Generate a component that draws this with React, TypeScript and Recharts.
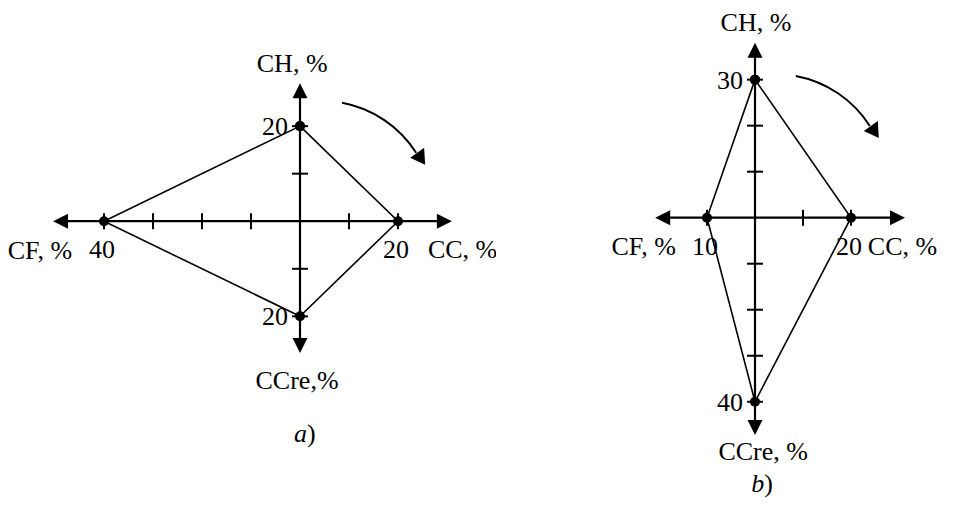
import React from 'react';
import { ScatterChart, Scatter, XAxis, YAxis, ReferenceLine } from 'recharts';

// semi-axes in drawing order: CH up, CC right, CCre down, CF left
const axisKeys = ['CH', 'CC', 'CCre', 'CF'];
const valuesA = [20, 20, 20, 40];
const valuesB = [30, 20, 40, 10];
const tickSteps = [10, 20, 30, 40];
const axisNamesA = ['CH, %', 'CC, %', 'CCre,%', 'CF, %'];
const axisNamesB = ['CH, %', 'CC, %', 'CCre, %', 'CF, %'];

const FONT = "'Liberation Serif', 'Times New Roman', serif";
const FONT_SIZE = 26;

const dirs: Record<string, [number, number]> = {
  CH: [0, 1],
  CC: [1, 0],
  CCre: [0, -1],
  CF: [-1, 0],
};

type Layout = {
  left: number;
  top: number;
  width: number;
  height: number;
  xDomain: [number, number];
  yDomain: [number, number];
  tips: number[]; // arrow tip distance for CH, CC, CCre, CF
  names: { x: number; y: number; anchor: string }[];
  caption: { x: number; y: number; letter: string };
  turn: { x: number; y: number };
};

const layoutA: Layout = {
  left: 6,
  top: 31,
  width: 490,
  height: 428,
  xDomain: [-60, 40],
  yDomain: [-50, 40],
  tips: [29, 31, 27.7, 50.4],
  names: [
    { x: -1.6, y: 31.4, anchor: 'middle' },
    { x: 26.1, y: -7.7, anchor: 'start' },
    { x: -0.6, y: -35.3, anchor: 'middle' },
    { x: -46.5, y: -7.9, anchor: 'end' },
  ],
  caption: { x: 1, y: -46.4, letter: 'a' },
  turn: { x: 8.6, y: 24.9 },
};

const layoutB: Layout = {
  left: 611,
  top: 6,
  width: 336,
  height: 497,
  xDomain: [-30, 40],
  yDomain: [-62, 46],
  tips: [38, 31.25, 47.2, 20.8],
  names: [
    { x: 0.2, y: 40.6, anchor: 'middle' },
    { x: 23.5, y: -8.1, anchor: 'start' },
    { x: 1.7, y: -52.7, anchor: 'middle' },
    { x: -16.5, y: -8.1, anchor: 'end' },
  ],
  caption: { x: 1.5, y: -59.6, letter: 'b' },
  turn: { x: 8.5, y: 30.8 },
};

const PointShape = (props: any) => {
  const { cx, cy, payload } = props;
  const side = payload.axis === 'CH' || payload.axis === 'CCre';
  return (
    <g>
      <circle cx={cx} cy={cy} r={5} fill="#000" />
      {payload.label && (
        <text
          x={side ? cx - 12 : cx - 2}
          y={side ? cy + 9 : cy + 37}
          textAnchor={side ? 'end' : 'middle'}
          fontFamily={FONT}
          fontSize={FONT_SIZE}
          fill="#000"
        >
          {payload.label}
        </text>
      )}
    </g>
  );
};

const TickShape = (props: any) => {
  const { cx, cy, payload } = props;
  if (payload.onX) {
    return <line x1={cx} x2={cx} y1={cy - 8} y2={cy + 8} stroke="#000" strokeWidth={2} />;
  }
  return <line x1={cx - 8} x2={cx + 8} y1={cy} y2={cy} stroke="#000" strokeWidth={2} />;
};

const ArrowTip = (props: any) => {
  const { cx, cy, payload } = props;
  const [dx, dy] = dirs[payload.axis];
  // screen direction (y flipped)
  const sx = dx;
  const sy = -dy;
  const len = 15;
  const half = 7.5;
  const bx = cx - sx * len;
  const by = cy - sy * len;
  const pts = `${cx},${cy} ${bx - sy * half},${by + sx * half} ${bx + sy * half},${by - sx * half}`;
  return <polygon points={pts} fill="#000" />;
};

const NameShape = (props: any) => {
  const { cx, cy, payload } = props;
  return (
    <text x={cx} y={cy} textAnchor={payload.anchor} fontFamily={FONT} fontSize={FONT_SIZE} fill="#000">
      {payload.text}
    </text>
  );
};

const CaptionShape = (props: any) => {
  const { cx, cy, payload } = props;
  return (
    <text x={cx} y={cy} textAnchor="middle" fontFamily={FONT} fontSize={FONT_SIZE} fill="#000">
      <tspan fontStyle="italic">{payload.letter}</tspan>)
    </text>
  );
};

const TurnShape = (props: any) => {
  const { cx, cy } = props;
  return (
    <g>
      <path
        d={`M${cx},${cy} A112,112 0 0 1 ${cx + 74},${cy + 50}`}
        fill="none"
        stroke="#000"
        strokeWidth={2}
      />
      <polygon
        points={`${cx + 83},${cy + 62} ${cx + 68},${cy + 55} ${cx + 82},${cy + 45}`}
        fill="#000"
      />
    </g>
  );
};

function Diagram({ values, names, layout }: { values: number[]; names: string[]; layout: Layout }) {
  const corners = axisKeys.map((axis, i) => ({
    x: dirs[axis][0] * values[i],
    y: dirs[axis][1] * values[i],
    axis,
    label: String(values[i]),
  }));
  const outline = [...corners, { ...corners[0], label: '' }];

  const ticks = axisKeys.flatMap((axis, i) =>
    tickSteps
      .filter((s) => s <= values[i])
      .map((s) => ({ x: dirs[axis][0] * s, y: dirs[axis][1] * s, onX: dirs[axis][0] !== 0 }))
  );

  const tips = axisKeys.map((axis, i) => ({
    x: dirs[axis][0] * layout.tips[i],
    y: dirs[axis][1] * layout.tips[i],
    axis,
  }));

  const nameData = names.map((text, i) => ({ ...layout.names[i], text }));

  return (
    <div style={{ position: 'absolute', left: layout.left, top: layout.top }}>
      <ScatterChart
        width={layout.width}
        height={layout.height}
        margin={{ top: 0, right: 0, bottom: 0, left: 0 }}
      >
        <XAxis type="number" dataKey="x" domain={layout.xDomain} allowDataOverflow hide />
        <YAxis type="number" dataKey="y" domain={layout.yDomain} allowDataOverflow hide />
        <ReferenceLine
          segment={[
            { x: -layout.tips[3] + 1, y: 0 },
            { x: layout.tips[1] - 1, y: 0 },
          ]}
          stroke="#000"
          strokeWidth={2.2}
        />
        <ReferenceLine
          segment={[
            { x: 0, y: -layout.tips[2] + 1 },
            { x: 0, y: layout.tips[0] - 1 },
          ]}
          stroke="#000"
          strokeWidth={2.2}
        />
        <Scatter data={ticks} shape={TickShape} isAnimationActive={false} />
        <Scatter data={tips} shape={ArrowTip} isAnimationActive={false} />
        <Scatter
          data={outline}
          line={{ stroke: '#000', strokeWidth: 1.6 }}
          shape={PointShape}
          isAnimationActive={false}
        />
        <Scatter data={nameData} shape={NameShape} isAnimationActive={false} />
        <Scatter data={[layout.caption]} shape={CaptionShape} isAnimationActive={false} />
        <Scatter data={[layout.turn]} shape={TurnShape} isAnimationActive={false} />
      </ScatterChart>
    </div>
  );
}

export default function App() {
  return (
    <div style={{ position: 'absolute', left: 0, top: 0, width: 954, height: 514, background: '#fff' }}>
      <Diagram values={valuesA} names={axisNamesA} layout={layoutA} />
      <Diagram values={valuesB} names={axisNamesB} layout={layoutB} />
    </div>
  );
}
